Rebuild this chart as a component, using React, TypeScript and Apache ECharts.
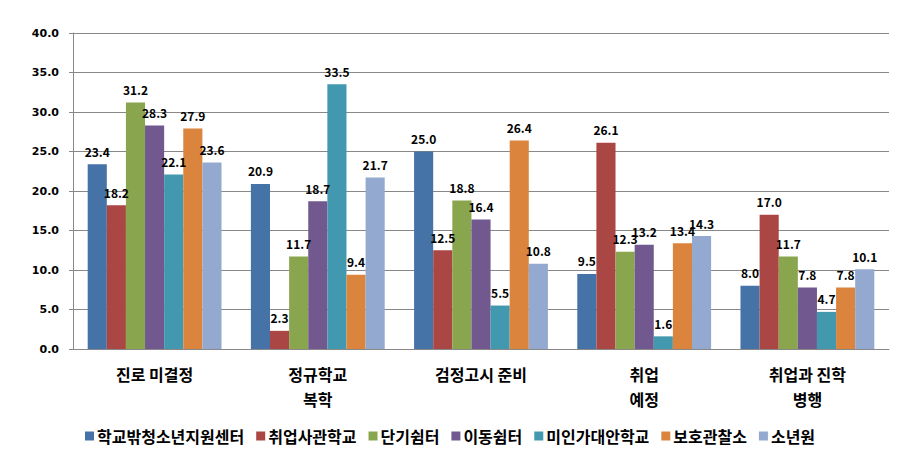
import React, { useEffect, useRef } from "react";
import * as echarts from "echarts";

const categories = ["진로 미결정", "정규학교\n복학", "검정고시 준비", "취업\n예정", "취업과 진학\n병행"];
const seriesNames = ["학교밖청소년지원센터", "취업사관학교", "단기쉼터", "이동쉼터", "미인가대안학교", "보호관찰소", "소년원"];
const s1 = [23.4, 20.9, 25.0, 9.5, 8.0];
const s2 = [18.2, 2.3, 12.5, 26.1, 17.0];
const s3 = [31.2, 11.7, 18.8, 12.3, 11.7];
const s4 = [28.3, 18.7, 16.4, 13.2, 7.8];
const s5 = [22.1, 33.5, 5.5, 1.6, 4.7];
const s6 = [27.9, 9.4, 26.4, 13.4, 7.8];
const s7 = [23.6, 21.7, 10.8, 14.3, 10.1];
const colors = ["#4572A7", "#AA4643", "#89A54E", "#71588F", "#4198AF", "#DB843D", "#93A9CF"];

export default function App() {
  const ref = useRef<HTMLDivElement>(null);
  useEffect(() => {
    const chart = echarts.init(ref.current!, null, { renderer: "svg" });
    const data = [s1, s2, s3, s4, s5, s6, s7];
    chart.setOption({
      animation: false,
      color: colors,
      grid: { left: 73, right: 33, top: 33, bottom: 118 },
      legend: {
        top: 423,
        left: 80,
        itemWidth: 9,
        itemHeight: 9,
        itemGap: 12,
        icon: "rect",
        textStyle: { fontFamily: "Noto Sans CJK KR", fontWeight: "bold", fontSize: 16, color: "#000", padding: [0, 0, 0, -2] },
        data: seriesNames,
      },
      xAxis: {
        type: "category",
        data: categories,
        axisLine: { lineStyle: { color: "#888" } },
        axisTick: { length: 6, lineStyle: { color: "#888" } },
        axisLabel: {
          margin: 12,
          fontFamily: "Noto Sans CJK KR",
          fontWeight: "bold",
          fontSize: 16,
          color: "#000",
          lineHeight: 25,
        },
      },
      yAxis: {
        type: "value",
        min: 0,
        max: 40,
        interval: 5,
        axisLine: { show: true, lineStyle: { color: "#888" } },
        axisTick: { show: true, length: 4, lineStyle: { color: "#888" } },
        splitLine: { lineStyle: { color: "#888" } },
        axisLabel: {
          formatter: (v: number) => v.toFixed(1),
          fontFamily: "DejaVu Sans",
          fontWeight: "bold",
          fontSize: 11,
          color: "#000",
          margin: 14,
        },
      },
      series: seriesNames.map((name, i) => ({
        name,
        type: "bar",
        data: data[i],
        barGap: "0%",
        barCategoryGap: "18%",
        label: {
          show: true,
          position: "top",
          distance: 7,
          formatter: (p: any) => Number(p.value).toFixed(1),
          fontFamily: "Noto Sans CJK KR",
          fontWeight: "bold",
          fontSize: 12,
          color: "#000",
        },
      })),
    });
    return () => chart.dispose();
  }, []);
  return <div ref={ref} style={{ width: 922, height: 467, position: "absolute", left: 0, top: 0 }} />;
}
